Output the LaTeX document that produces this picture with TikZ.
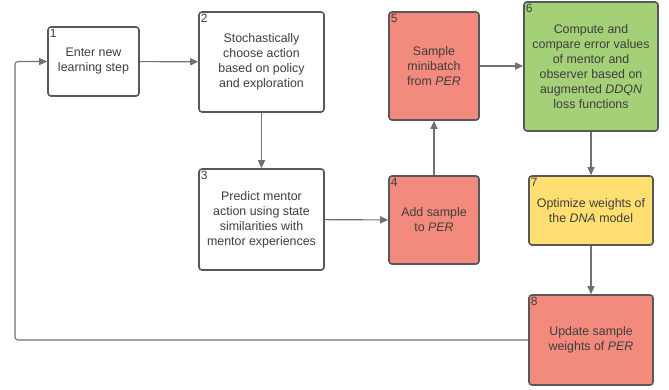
\documentclass[tikz,border=0pt]{standalone}
\usepackage{fontspec}
\setmainfont{Liberation Sans}
\usepackage{tikz}
\usetikzlibrary{arrows.meta,positioning}
\usepackage{xcolor}
\definecolor{myline}{RGB}{88,88,88}
\definecolor{myarrow}{RGB}{112,112,112}
\definecolor{mytext}{RGB}{62,62,62}
\definecolor{myred}{RGB}{243,138,126}
\definecolor{mygreen}{RGB}{164,208,120}
\definecolor{myyellow}{RGB}{255,223,113}
\tikzset{
  stepbox/.style={rectangle,draw=myline,line width=1.6pt,rounded corners=3pt,fill=white,
    align=center,text=mytext,font=\fontsize{12.4}{15}\selectfont,inner sep=2pt},
  num/.style={anchor=north west,inner sep=2.5pt,text=mytext,font=\fontsize{12}{13}\selectfont},
  flow/.style={-{Triangle[length=8pt,width=7pt]},line width=1.1pt,color=myarrow},
}

\begin{document}
\begin{tikzpicture}[x=1pt,y=-1pt]
  \useasboundingbox (0,0) rectangle (669,389);
  % steps
  \node[stepbox,minimum width=91pt,minimum height=69pt,
    label={[num]north west:1}] (s1) at (93.5,61.5) {Enter new\\learning step};
  \node[stepbox,minimum width=125pt,minimum height=100pt,
    label={[num]north west:2}] (s2) at (261.5,62) {Stochastically\\choose action\\based on policy\\and exploration};
  \node[stepbox,minimum width=125pt,minimum height=101pt,
    label={[num]north west:3}] (s3) at (261.5,219.5) {Predict mentor\\action using state\\similarities with\\mentor experiences};
  \node[stepbox,fill=myred,minimum width=90pt,minimum height=88pt,
    label={[num]north west:4}] (s4) at (434,220) {Add sample\\to \textit{PER}};
  \node[stepbox,fill=myred,minimum width=90pt,minimum height=108pt,
    label={[num]north west:5}] (s5) at (434,66) {Sample\\minibatch\\from \textit{PER}};
  \node[stepbox,fill=mygreen,minimum width=134pt,minimum height=129pt,
    label={[num]north west:6}] (s6) at (591,66.5) {Compute and\\compare error values\\of mentor and\\observer based on\\augmented \textit{DDQN}\\loss functions};
  \node[stepbox,fill=myyellow,minimum width=124pt,minimum height=69pt,
    label={[num]north west:7}] (s7) at (591,210.5) {Optimize weights of\\the \textit{DNA} model};
  \node[stepbox,fill=myred,minimum width=124pt,minimum height=90pt,
    label={[num]north west:8}] (s8) at (591,340) {Update sample\\weights of \textit{PER}};
  \coordinate (back) at (15,61.5);
  % connectors
  \draw[flow] (s1) -- (s2);
  \draw[flow] (s2) -- (s3);
  \draw[flow] (s3) -- (s4);
  \draw[flow] (s4) -- (s5);
  \draw[flow] (s5.east) -- (s6.west |- s5.east);
  \draw[flow] (s6) -- (s7);
  \draw[flow] (s7) -- (s8);
  \draw[flow,rounded corners=3pt] (s8.west) -| (back) -- (s1.west);
\end{tikzpicture}
\end{document}
